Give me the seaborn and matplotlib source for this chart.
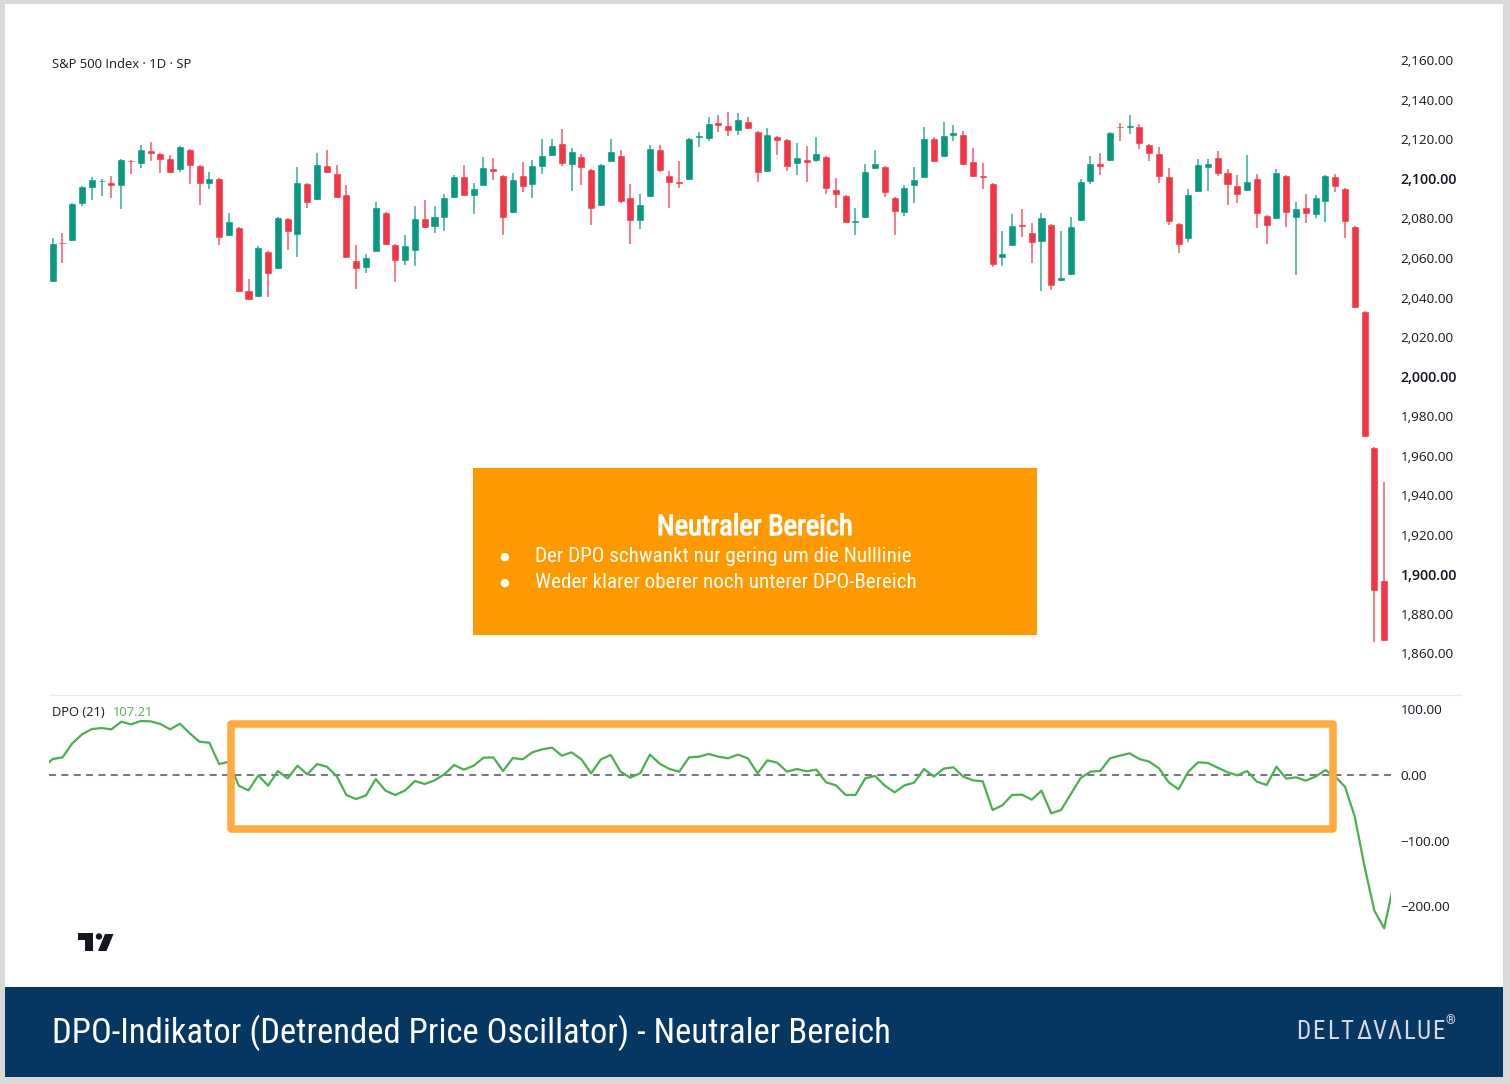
import matplotlib
matplotlib.use('Agg')
import matplotlib.pyplot as plt
import matplotlib.patheffects as pe
from matplotlib.patches import Rectangle, Polygon, Circle
import numpy as np
import pandas as pd
import seaborn as sns

# daily S&P 500 candles
opens = [
    2047.9, 2067.6, 2068.8, 2087.4, 2095.3, 2098.7, 2098.7, 2096.5, 2109.5, 2107.8,
    2114.5, 2113.3, 2110.5, 2104.4, 2115.0, 2107.1, 2097.5, 2100.4, 2071.2, 2075.6,
    2043.8, 2040.1, 2063.7, 2054.3, 2080.1, 2071.7, 2098.2, 2089.2, 2107.1, 2103.2,
    2092.4, 2059.0, 2054.8, 2063.2, 2083.5, 2067.1, 2058.7, 2063.7, 2080.1, 2075.6,
    2080.1, 2090.2, 2101.5, 2091.4, 2096.5, 2105.4, 2102.0, 2083.0, 2102.0, 2097.0,
    2106.1, 2111.7, 2118.4, 2107.1, 2111.7, 2104.9, 2086.4, 2108.8, 2112.2, 2090.7,
    2078.9, 2090.7, 2115.0, 2102.0, 2099.2, 2099.3, 2120.6, 2120.1, 2129.0, 2127.3,
    2124.5, 2129.5, 2124.5, 2103.7, 2121.8, 2120.1, 2107.6, 2110.0, 2109.3, 2111.7,
    2094.8, 2091.9, 2077.9, 2080.1, 2104.9, 2106.6, 2090.7, 2083.0, 2096.5, 2100.4,
    2120.6, 2111.2, 2121.8, 2122.8, 2109.3, 2102.0, 2098.2, 2059.9, 2066.1, 2077.2,
    2073.4, 2068.3, 2077.2, 2048.6, 2051.4, 2078.9, 2098.7, 2108.3, 2109.3, 2126.2,
    2125.7, 2126.8, 2117.9, 2113.3, 2101.5, 2077.9, 2069.5, 2093.6, 2105.4, 2111.0,
    2103.7, 2097.0, 2094.1, 2100.4, 2081.8, 2079.6, 2102.0, 2080.1, 2085.7, 2081.8,
    2088.5, 2101.5, 2095.3, 2076.2, 2033.2, 1964.2, 1897.1,
]
closes = [
    2067.5, 2067.1, 2088.0, 2096.5, 2099.8, 2099.3, 2096.5, 2110.0, 2108.8, 2115.0,
    2112.8, 2109.5, 2103.2, 2116.7, 2106.6, 2097.5, 2100.4, 2070.0, 2078.9, 2042.8,
    2038.9, 2065.4, 2051.9, 2080.6, 2073.4, 2098.7, 2088.0, 2107.6, 2103.2, 2090.2,
    2059.9, 2054.6, 2060.4, 2085.7, 2066.6, 2058.7, 2066.4, 2080.1, 2075.1, 2081.3,
    2090.7, 2101.5, 2091.4, 2095.3, 2105.9, 2103.7, 2080.1, 2099.8, 2096.0, 2107.1,
    2112.2, 2117.2, 2107.8, 2113.9, 2105.4, 2084.7, 2107.6, 2113.9, 2088.5, 2078.9,
    2087.4, 2115.5, 2104.2, 2098.2, 2097.5, 2120.6, 2122.3, 2128.5, 2126.8, 2124.5,
    2130.2, 2125.2, 2103.2, 2122.8, 2119.4, 2105.9, 2111.0, 2108.3, 2113.3, 2094.8,
    2091.9, 2077.9, 2079.3, 2104.2, 2108.3, 2093.1, 2083.5, 2095.8, 2099.8, 2120.6,
    2108.8, 2122.3, 2123.5, 2107.1, 2100.9, 2100.4, 2056.5, 2062.4, 2076.7, 2075.6,
    2067.8, 2080.6, 2045.9, 2050.6, 2076.2, 2099.2, 2108.3, 2105.9, 2123.5, 2125.7,
    2127.3, 2117.9, 2112.7, 2100.9, 2078.4, 2066.6, 2092.4, 2107.6, 2108.3, 2102.5,
    2097.0, 2091.9, 2099.2, 2082.3, 2076.2, 2103.7, 2083.0, 2085.2, 2082.3, 2090.7,
    2102.0, 2095.8, 2078.4, 2034.6, 1969.6, 1891.7, 1866.4,
]
highs = [
    2070.0, 2072.5, 2088.0, 2096.5, 2100.9, 2099.8, 2101.5, 2110.0, 2109.5, 2117.2,
    2118.9, 2113.3, 2112.2, 2116.7, 2115.0, 2107.1, 2103.7, 2100.4, 2083.0, 2075.6,
    2049.6, 2066.1, 2063.7, 2080.6, 2080.1, 2105.9, 2098.2, 2113.3, 2114.5, 2107.1,
    2097.0, 2066.6, 2061.9, 2088.4, 2083.5, 2067.1, 2071.7, 2086.4, 2089.1, 2086.4,
    2092.4, 2102.0, 2107.1, 2098.2, 2111.2, 2110.5, 2102.0, 2103.2, 2108.8, 2109.5,
    2120.1, 2120.1, 2125.2, 2115.5, 2112.7, 2104.9, 2107.6, 2120.1, 2114.4, 2097.5,
    2092.4, 2117.2, 2117.2, 2104.2, 2109.3, 2120.6, 2123.5, 2131.2, 2132.4, 2134.1,
    2133.6, 2131.2, 2124.5, 2125.7, 2121.8, 2120.1, 2118.4, 2116.7, 2121.1, 2111.7,
    2100.4, 2091.9, 2085.2, 2107.6, 2114.4, 2106.6, 2090.7, 2097.0, 2105.9, 2126.2,
    2121.1, 2129.0, 2127.3, 2124.5, 2115.5, 2108.3, 2098.2, 2073.9, 2082.3, 2084.7,
    2077.9, 2083.0, 2077.2, 2073.9, 2080.6, 2099.8, 2111.7, 2113.3, 2124.0, 2128.5,
    2132.4, 2127.9, 2117.9, 2116.0, 2105.4, 2077.9, 2094.8, 2110.0, 2110.0, 2113.9,
    2104.9, 2102.0, 2112.2, 2102.5, 2081.8, 2104.9, 2102.0, 2088.4, 2092.4, 2091.9,
    2102.0, 2102.5, 2095.3, 2076.2, 2033.2, 1964.2, 1946.8,
]
lows = [
    2047.9, 2057.3, 2068.8, 2086.4, 2089.1, 2091.4, 2090.2, 2084.7, 2102.5, 2105.4,
    2109.3, 2103.2, 2103.2, 2103.7, 2097.5, 2086.9, 2094.8, 2066.6, 2071.2, 2042.8,
    2038.9, 2040.1, 2040.5, 2054.3, 2064.3, 2060.4, 2085.2, 2089.2, 2103.2, 2090.2,
    2059.9, 2044.5, 2052.6, 2063.2, 2066.6, 2047.9, 2056.5, 2056.0, 2075.1, 2072.9,
    2073.9, 2090.2, 2091.4, 2082.5, 2096.5, 2099.3, 2071.7, 2083.0, 2093.6, 2090.2,
    2102.7, 2111.7, 2106.6, 2094.1, 2097.0, 2076.7, 2086.4, 2108.8, 2088.0, 2067.1,
    2074.5, 2090.7, 2103.7, 2085.2, 2095.3, 2099.3, 2116.2, 2119.4, 2124.0, 2121.8,
    2122.3, 2125.2, 2098.7, 2103.7, 2112.2, 2104.2, 2102.0, 2098.7, 2108.8, 2092.4,
    2085.2, 2077.9, 2071.7, 2080.1, 2104.9, 2090.7, 2071.7, 2081.3, 2088.0, 2100.4,
    2108.8, 2111.2, 2119.4, 2107.1, 2100.9, 2094.8, 2055.6, 2056.0, 2066.1, 2070.5,
    2057.3, 2043.5, 2043.8, 2048.6, 2051.4, 2078.9, 2097.5, 2102.0, 2109.3, 2119.4,
    2122.8, 2115.0, 2109.3, 2098.2, 2076.7, 2062.7, 2068.3, 2093.6, 2094.1, 2101.5,
    2086.9, 2088.0, 2094.1, 2075.1, 2067.1, 2079.6, 2075.6, 2051.4, 2077.9, 2080.1,
    2078.4, 2093.6, 2070.0, 2034.6, 1969.6, 1865.9, 1866.4,
]

# DPO starts one bar before the first candle and runs one bar past the last
dpo_values = [
    11.0,
    24.4, 26.9, 48.3, 62.0, 70.2, 71.7, 69.7, 81.4, 77.3, 82.4,
    81.9, 77.8, 69.7, 78.3, 63.6, 50.8, 49.3, 16.7, 20.3, -16.3,
    -23.5, -0.6, -16.3, 6.0, -5.2, 14.2, 1.0, 16.7, 12.7, -1.6,
    -30.6, -36.7, -31.1, -6.2, -24.0, -30.6, -23.5, -9.2, -13.8, -8.2,
    1.0, 15.2, 8.1, 14.2, 26.4, 26.9, 6.0, 25.9, 23.9, 34.6,
    39.2, 41.8, 29.5, 34.6, 23.9, 2.6, 23.9, 30.6, 5.1, -4.1,
    2.6, 31.1, 17.3, 9.2, 5.1, 27.0, 28.0, 32.1, 28.0, 25.5,
    31.1, 25.5, 2.6, 22.4, 18.8, 5.1, 9.2, 5.6, 8.2, -11.2,
    -15.8, -30.5, -30.5, -5.1, -1.5, -16.3, -26.5, -15.8, -11.7, 9.2,
    -2.5, 9.7, 11.7, -2.5, -8.1, -9.7, -53.4, -46.3, -30.5, -30.0,
    -37.7, -23.9, -58.5, -53.4, -29.0, -4.6, 5.1, 6.1, 25.5, 29.5,
    33.1, 24.4, 20.4, 10.2, -11.2, -21.9, 5.1, 19.4, 18.3, 11.2,
    4.1, -0.5, 6.1, -10.2, -15.3, 12.7, -5.6, -3.5, -8.6, -2.5,
    7.6, -2.5, -17.8, -63.6, -140.0, -207.1, -234.1, -165.0,
]

price_ticks = list(range(1860, 2161, 20))
dpo_ticks = [100, 0, -100, -200]
dpo_tick_labels = ['100.00', '0.00', '\u2212100.00', '\u2212200.00']
bold_prices = [1900, 2000, 2100]

UP = '#089981'
DOWN = '#F23645'
NARROW = ['Roboto Condensed', 'Roboto', 'DejaVu Sans']
UI = ['Open Sans', 'DejaVu Sans']

sns.set_theme(style='white')
plt.rcParams['font.family'] = UI
plt.rcParams['lines.scale_dashes'] = False

W, H = 1510, 1084
fig = plt.figure(figsize=(W / 100, H / 100), dpi=100, facecolor='white')


def px_axes(left, top, right, bottom, **kw):
    return fig.add_axes([left / W, 1 - bottom / H, (right - left) / W, (bottom - top) / H], **kw)


candles = pd.DataFrame({'open': opens, 'close': closes, 'high': highs, 'low': lows})
candles['bar'] = np.arange(len(candles))
candles['bottom'] = candles[['open', 'close']].min(axis=1)
candles['height'] = (candles['close'] - candles['open']).abs()
candles['color'] = np.where(candles['close'] >= candles['open'], UP, DOWN)

ax1 = px_axes(49, 40, 1391, 695)
ax1.vlines(candles['bar'], candles['low'], candles['high'], colors=candles['color'], lw=1.2, alpha=0.75)
ax1.bar(candles['bar'], candles['height'].clip(lower=0.9), bottom=candles['bottom'],
        width=0.82, color=candles['color'])
ax1.set_xlim(-0.378, 136.7)
ax1.set_ylim(1838.9, 2170.3)
ax1.set_xticks([])
ax1.yaxis.tick_right()
ax1.set_yticks(price_ticks)
ax1.set_yticklabels([f'{p:,.2f}' for p in price_ticks])
ax1.tick_params(axis='y', length=0, pad=7, labelsize=9.7, labelcolor='#131722')
for lab, p in zip(ax1.get_yticklabels(), price_ticks):
    if p in bold_prices:
        lab.set_fontweight('semibold')
        lab.set_fontsize(10.3)
sns.despine(ax=ax1, left=True, bottom=True, right=True, top=True)

dpo = pd.DataFrame({'bar': np.arange(len(dpo_values)) - 1, 'dpo': dpo_values})
ax2 = px_axes(49, 696, 1391, 985)
ax2.axhline(0, color='#787B86', lw=1.5, dashes=(5.0, 3.9))
sns.lineplot(data=dpo, x='bar', y='dpo', ax=ax2, color='#4CAF50', lw=1.6, errorbar=None)
ax2.set_xlim(-0.378, 136.7)
ax2.set_ylim(-320.6, 120.6)
ax2.set_xticks([])
ax2.set_xlabel('')
ax2.set_ylabel('')
ax2.yaxis.tick_right()
ax2.set_yticks(dpo_ticks)
ax2.set_yticklabels(dpo_tick_labels)
ax2.tick_params(axis='y', length=0, pad=7, labelsize=9.7, labelcolor='#131722')
sns.despine(ax=ax2, left=True, bottom=True, right=True, top=True)

# everything around the chart goes on a pixel overlay
ov = fig.add_axes([0, 0, 1, 1], zorder=10)
ov.set_xlim(0, W)
ov.set_ylim(H, 0)
ov.axis('off')
ov.patch.set_alpha(0)

border = '#D9D9D9'
for x, y, w, h in [(0, 0, W, 4), (0, 0, 5, H), (1503, 0, 7, H), (0, 1077, W, 7)]:
    ov.add_patch(Rectangle((x, y), w, h, color=border, lw=0))
ov.plot([50, 1461], [695, 695], color='#EAEAEA', lw=0.8)

ov.text(52, 64, 'S&P 500 Index \u00b7 1D \u00b7 SP', fontsize=9.4, color='#131722', va='center')
ov.text(52, 713, 'DPO (21)', fontsize=9.3, color='#131722', va='center')
ov.text(113, 713, '107.21', fontsize=9.3, color='#4CAF50', va='center')

ov.add_patch(Rectangle((231, 723.5), 1101.5, 105, fill=False, ec='#FFAB40', lw=5.4, joinstyle='round'))

ov.add_patch(Rectangle((473, 468), 564, 167, color='#FF9900', lw=0))
ov.text(755, 527, 'Neutraler Bereich', family=NARROW, fontsize=20.6, color='white', ha='center', va='center',
        path_effects=[pe.withStroke(linewidth=0.9, foreground='white')])
for yy, line in [(557, 'Der DPO schwankt nur gering um die Nulllinie'),
                 (583, 'Weder klarer oberer noch unterer DPO-Bereich')]:
    ov.text(504.5, yy, '\u25cf', family='DejaVu Sans', fontsize=8, color='white', ha='center', va='center')
    ov.text(535, yy, line, family=NARROW, fontsize=15.25, color='white', va='center')

# TradingView mark
logo = '#131722'
ov.add_patch(Polygon([(78, 933), (93, 933), (93, 951), (85, 951), (85, 940), (78, 940)], color=logo, lw=0))
ov.add_patch(Circle((99, 936.5), 3.2, color=logo, lw=0))
ov.add_patch(Polygon([(105, 934), (113.5, 934), (106.5, 951), (98, 951)], color=logo, lw=0))

ov.add_patch(Rectangle((5, 986.5), 1498, 90.5, color='#063763', lw=0))
ov.text(52, 1033, 'DPO-Indikator (Detrended Price Oscillator) - Neutraler Bereich', family=NARROW,
        fontsize=24.9, color='white', va='center')

brand = ['D', 'E', 'L', 'T', '\u0394', 'V', '\u039b', 'L', 'U', 'E']
brand_x = [1303, 1318, 1333, 1347, 1364, 1379, 1394, 1409, 1423, 1438]
for ch, x in zip(brand, brand_x):
    ov.text(x, 1032, ch, family=NARROW, fontsize=18, color='#D5DAE0', ha='center', va='center')
ov.text(1450, 1021, '\u00ae', family=NARROW, fontsize=9, color='#D5DAE0', ha='center', va='center')

fig.savefig('out.png', dpi=100, facecolor='white')
